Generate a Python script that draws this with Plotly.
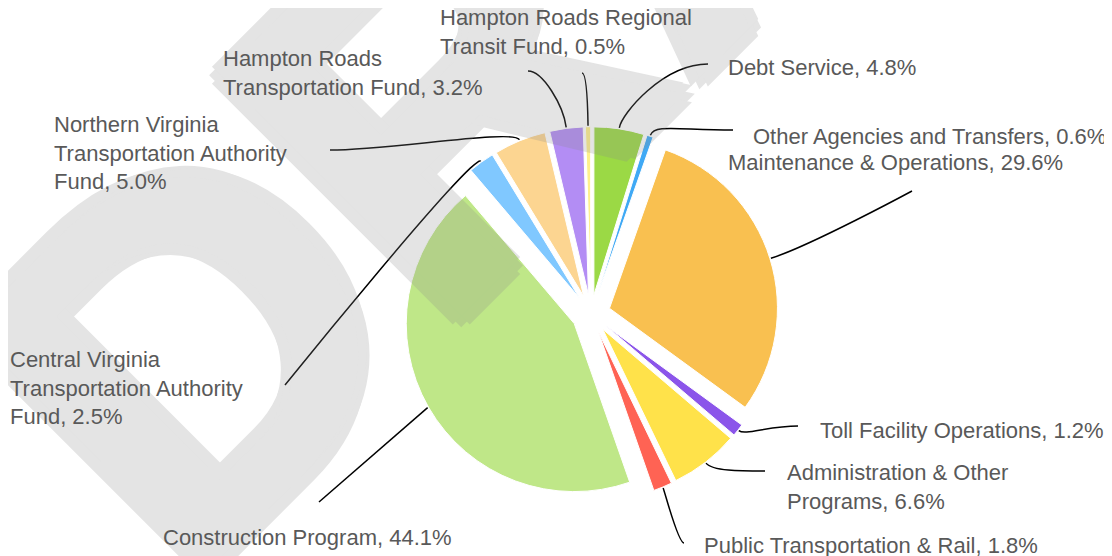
import math
import plotly.graph_objects as go

# slices, clockwise from 12 o'clock
names = [
    "Debt Service",
    "Other Agencies and Transfers",
    "Maintenance & Operations",
    "Toll Facility Operations",
    "Administration & Other<br>Programs",
    "Public Transportation & Rail",
    "Construction Program",
    "Central Virginia<br>Transportation Authority<br>Fund",
    "Northern Virginia<br>Transportation Authority<br>Fund",
    "Hampton Roads<br>Transportation Fund",
    "Hampton Roads Regional<br>Transit Fund",
]
shares = [4.8, 0.6, 29.6, 1.2, 6.6, 1.8, 44.1, 2.5, 5.0, 3.2, 0.5]
colors = ["#9BD945", "#3FA9F5", "#F9C050", "#8B55EA", "#FFE24A", "#FF6354",
          "#BFE788", "#80C8FF", "#FCD591", "#B38DF4", "#FFF08C"]

W, H = 1112, 556
OFF = 8                          # page body margin
CX, CY, R = 591, 314, 168        # pie centre / radius in window px
PULL = 0.115

# label placement (window px): text left/middle, leader end, radial stub, horizontal approach
label_pos = [
    (729, 67, 708, 64, 14, 45),
    (754, 136, 733, 130, 12, 55),
    (729, 162, 912, 191, 40, 0),
    (821, 430, 798, 426, 8, 30),
    (788, 487, 765, 471, 10, 25),
    (705, 545, 684, 543, 5, 6),
    (164, 537, 319, 502, 0, 0),
    (11, 388, 285, 385, 12, 0),
    (55, 153, 330, 150, 12, 60),
    (224, 73, 528, 71, 22, 15),
    (441, 32, 582, 73, 18, 5),
]


def px(x, y):
    return (x - OFF) / W, 1 - (y - OFF) / H


(dx0, dy1), (dx1, dy0) = px(CX - R * 1.6, CY - R * (1 + PULL)), px(CX + R * 1.6, CY + R * (1 + PULL))

fig = go.Figure(go.Pie(
    labels=[n.replace("<br>", " ") for n in names],
    values=shares,
    sort=False,
    direction="clockwise",
    rotation=0,
    pull=PULL,
    textinfo="none",
    marker=dict(colors=colors, line=dict(color="white", width=1)),
    domain=dict(x=[dx0, dx1], y=[dy0, dy1]),
))

# heavy watermark: bold text thickened with shadows, faded as one group
wm_grey = "rgb(140,140,140)"
thick = ", ".join(f"{dx}px {dy}px 0 {wm_grey}" for dx, dy in
                  [(12, 0), (-12, 0), (0, 12), (0, -12), (8, 8), (-8, -8), (8, -8), (-8, 8)])
wx, wy = px(656, -122)
annotations = [dict(
    text="DRAFT", x=wx, y=wy, xref="paper", yref="paper",
    xanchor="center", yanchor="middle", showarrow=False, textangle=-45,
    opacity=0.23,
    font=dict(family="Liberation Sans", weight="bold", size=495,
              color=wm_grey, shadow=thick),
)]
shapes = []

total = sum(shares)
cum = 0
for name, v, (tx, ty, ex, ey, stub, appr) in zip(names, shares, label_pos):
    theta = math.radians(360 * (cum + v / 2) / total)
    cum += v
    ux, uy = math.sin(theta), -math.cos(theta)
    rr = R * (1 + PULL) + 1
    sx, sy = CX + rr * ux, CY + rr * uy
    c1x, c1y = sx + stub * ux, sy + stub * uy
    side = 1 if ex > sx else -1
    c2x, c2y = ex - side * appr, ey
    p = [px(sx, sy), px(c1x, c1y), px(c2x, c2y), px(ex, ey)]
    path = "M {} {} C {} {}, {} {}, {} {}".format(*[c for pt in p for c in pt])
    shapes.append(dict(type="path", path=path, xref="paper", yref="paper",
                       line=dict(color="black", width=1.5)))
    lx, ly = px(tx - 3, ty)
    annotations.append(dict(
        text=f"{name}, {v:.1f}%", x=lx, y=ly, xref="paper", yref="paper",
        xanchor="left", yanchor="middle", align="left", showarrow=False,
        font=dict(family="Liberation Sans, Arial", size=22, color="#595959"),
    ))

fig.update_layout(
    width=W, height=H,
    margin=dict(l=0, r=0, t=0, b=0),
    paper_bgcolor="white",
    showlegend=False,
    shapes=shapes,
    annotations=annotations,
)

fig.write_html("out.html")
